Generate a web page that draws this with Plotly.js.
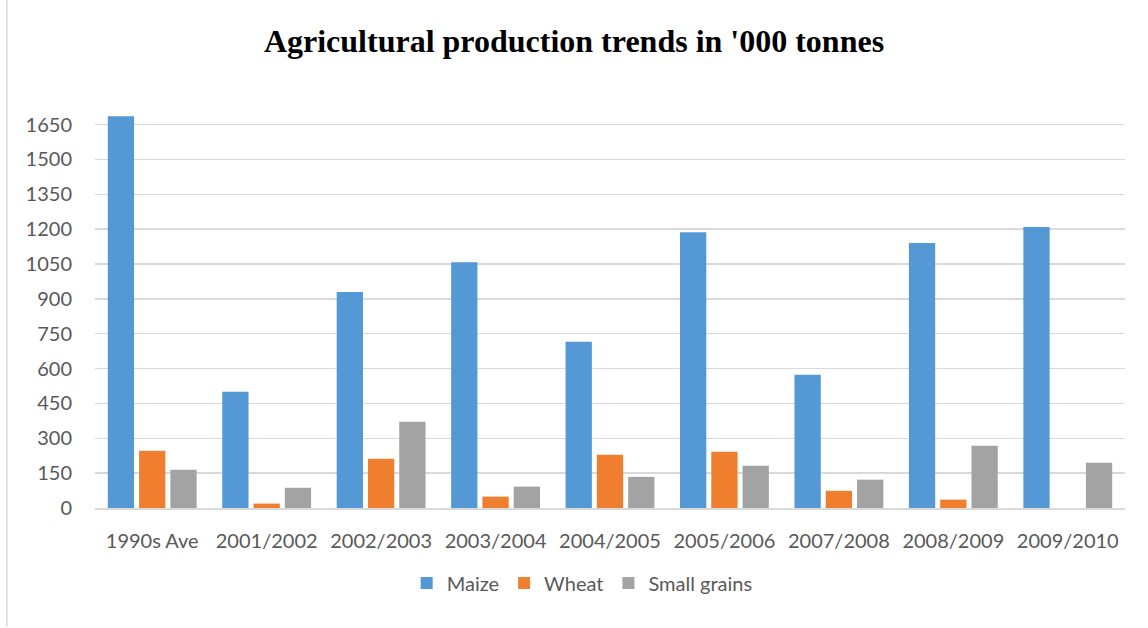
<!DOCTYPE html>
<html>
<head>
<meta charset="utf-8">
<script src="https://cdn.plot.ly/plotly-3.0.1.min.js"></script>
<style>html,body{margin:0;padding:0;background:#fff;}#chart{width:1148px;height:628px;}</style>
</head>
<body>
<div id="chart"></div>
<script>
const categories = ["1990s Ave", "2001/2002", "2002/2003", "2003/2004", "2004/2005", "2005/2006", "2007/2008", "2008/2009", "2009/2010"];
const maize = [1686, 500, 930, 1058, 715, 1187, 573, 1140, 1209];
const wheat = [246, 19, 212, 49, 229, 242, 74, 36, 0];
const smallGrains = [165, 87, 371, 92, 134, 182, 122, 268, 195];
const yTicks = [0, 150, 300, 450, 600, 750, 900, 1050, 1200, 1350, 1500, 1650];

const font = "Lato, 'Open Sans', sans-serif";
const traces = [
  {type: "bar", name: "Maize", x: categories, y: maize, marker: {color: "#5598d6"}},
  {type: "bar", name: "Wheat", x: categories, y: wheat, marker: {color: "#f07e2f"}},
  {type: "bar", name: "Small grains", x: categories, y: smallGrains, marker: {color: "#a3a3a3"}}
];
const layout = {
  width: 1148, height: 628,
  margin: {l: 95, r: 23, t: 113, b: 120},
  paper_bgcolor: "#ffffff", plot_bgcolor: "#ffffff",
  barmode: "group", bargap: 0.18, bargroupgap: 0.16,
  title: {text: "<b>Agricultural production trends in '000 tonnes</b>", x: 0.5, xanchor: "center", y: 0.935, yanchor: "middle",
          font: {family: "'Liberation Serif', 'Times New Roman', serif", size: 32, color: "#000000"}},
  xaxis: {type: "category", showgrid: false, showline: true, linecolor: "#d9d9d9", linewidth: 1.5,
          ticks: "", ticklabelstandoff: 14, tickfont: {family: font, size: 20, color: "#595959"}, zeroline: false},
  yaxis: {range: [0, 1700], tickvals: yTicks, ticktext: yTicks.map(String), showgrid: true, gridcolor: "#d9d9d9", gridwidth: 1.5,
          zeroline: false, showline: false, ticks: "", ticklabelstandoff: 22, tickfont: {family: font, size: 20, color: "#595959"}},
  legend: {orientation: "h", x: 0.473, xanchor: "center", y: -0.19, yanchor: "middle", font: {family: font, size: 20, color: "#595959"},
           itemwidth: 30, traceorder: "normal"},
  shapes: [
    {type: "line", xref: "paper", yref: "paper", x0: -0.0855, x1: -0.0855, y0: -0.3, y1: 1.35, line: {color: "#d9d9d9", width: 1.5}}
  ]
};
Plotly.newPlot("chart", traces, layout, {displayModeBar: false, staticPlot: true});
</script>
</body>
</html>
